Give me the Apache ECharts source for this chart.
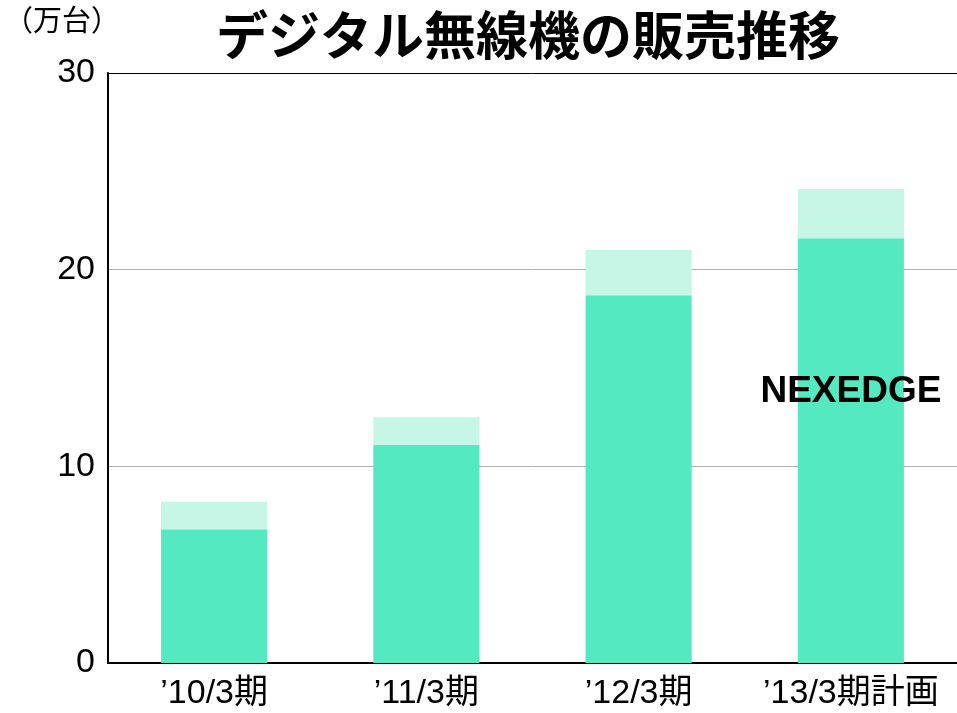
<!DOCTYPE html>
<html>
<head>
<meta charset="utf-8">
<script src="https://cdn.jsdelivr.net/npm/echarts@6/dist/echarts.min.js"></script>
<style>
html,body{margin:0;padding:0;background:#fff;}
#chart{width:957px;height:713px;}
</style>
</head>
<body>
<div id="chart"></div>
<script>
const categories = ['’10/3期', '’11/3期', '’12/3期', '’13/3期計画'];
const nexedgeValues = [6.8, 11.1, 18.7, 21.6];
const otherValues = [1.4, 1.4, 2.3, 2.5];
const yTicks = [0, 10, 20, 30];
const titleText = 'デジタル無線機の販売推移';
const unitText = '（万台）';
const seriesLabel = 'NEXEDGE';

const FONT = '"Liberation Sans", Arial, "Noto Sans CJK JP", sans-serif';
const chart = echarts.init(document.getElementById('chart'));
chart.setOption({
  animation: false,
  backgroundColor: '#fff',
  title: {
    text: titleText,
    left: 523, top: 10, textAlign: 'center',
    textStyle: {fontFamily: FONT, fontSize: 52, fontWeight: 'bold', color: '#000'}
  },
  graphic: [{
    type: 'text', left: 4, top: 8,
    style: {text: unitText, fontFamily: FONT, fontSize: 29, fill: '#000'}
  }],
  grid: {left: 108, width: 853, top: 73, bottom: 50, containLabel: false},
  xAxis: {
    type: 'category', data: categories,
    axisLine: {lineStyle: {color: '#000', width: 2}},
    axisTick: {show: false},
    axisLabel: {interval: 0, fontFamily: FONT, fontSize: 34, color: '#000', margin: 14}
  },
  yAxis: {
    type: 'value', min: yTicks[0], max: yTicks[yTicks.length - 1], interval: 10,
    axisLine: {show: true, lineStyle: {color: '#000', width: 2}},
    axisTick: {show: false},
    axisLabel: {fontFamily: FONT, fontSize: 34, color: '#000', margin: 13},
    splitLine: {show: true, lineStyle: {color: ['#000', '#b0b0b0', '#b0b0b0', '#000'], width: 1}}
  },
  series: [{
    name: seriesLabel, type: 'bar', stack: 'total', data: nexedgeValues,
    barWidth: '50%', itemStyle: {color: '#55E9C1'},
    markPoint: {
      symbol: 'circle', symbolSize: 0,
      data: [{coord: [categories[3], 13.8], value: seriesLabel}],
      label: {show: true, position: 'inside', formatter: seriesLabel,
        fontFamily: FONT, fontSize: 37, fontWeight: 'bold', color: '#000'}
    }
  }, {
    name: 'other', type: 'bar', stack: 'total', data: otherValues,
    barWidth: '50%', itemStyle: {color: '#C5F6E6'}
  }]
});
</script>
</body>
</html>
